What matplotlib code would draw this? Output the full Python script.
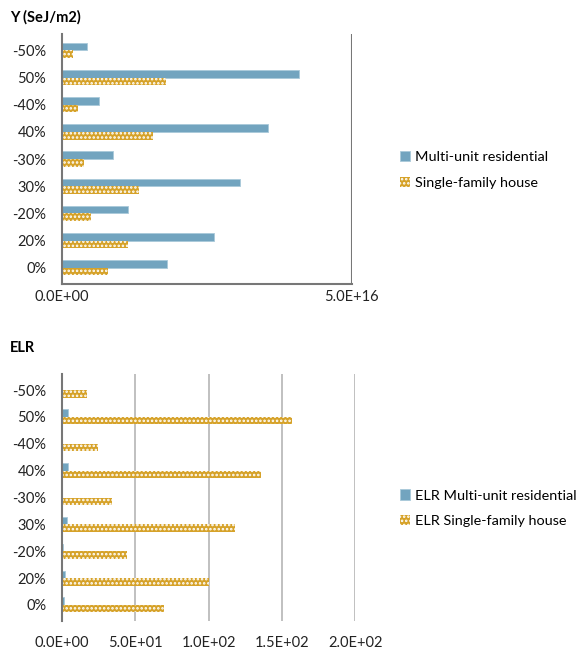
import numpy as np
import matplotlib
matplotlib.use("Agg")
import matplotlib.pyplot as plt
from matplotlib.ticker import FuncFormatter
from matplotlib.patches import Patch

plt.rcParams['font.family'] = ['Lato', 'DejaVu Sans']
plt.rcParams['hatch.linewidth'] = 1.2

# categories, listed from the bottom of the chart upwards
categories = ["0%", "20%", "-20%", "30%", "-30%", "40%", "-40%", "50%", "-50%"]

# Y (SeJ/m2)
y_multi = [1.81e16, 2.62e16, 1.15e16, 3.07e16, 0.88e16, 3.56e16, 0.64e16, 4.09e16, 0.435e16]
y_single = [0.79e16, 1.14e16, 0.50e16, 1.34e16, 0.38e16, 1.57e16, 0.275e16, 1.79e16, 0.19e16]

# ELR
elr_multi = [1.6, 2.5, 0.9, 3.4, 0.4, 4.1, 0.2, 4.5, 0.2]
elr_single = [69.4, 100.2, 44.4, 118.0, 34.2, 136.0, 24.5, 156.7, 17.2]

blue = "#72A4BF"
gold = "#D6A229"
bar_h = 0.28


def sci(v, pos):
    s = "%.1E" % v
    mant, exp = s.split("E")
    return "%sE%s%02d" % (mant, exp[0], abs(int(exp)))


def draw(ax, multi, single, xmax, step):
    y = np.arange(len(categories))
    ax.barh(y + bar_h / 2, multi, height=bar_h, color=blue, edgecolor="#A9C9DA", lw=0.6)
    ax.barh(y - bar_h / 2, single, height=bar_h, color=gold, edgecolor="white",
            hatch="....", lw=0)
    ax.set_xlim(0, xmax)
    ax.set_ylim(-0.6, len(categories) - 0.4)
    ax.set_yticks(y)
    ax.set_yticklabels(categories, fontsize=10.5)
    ax.set_xticks(np.arange(0, xmax + step / 2, step))
    ax.xaxis.set_major_formatter(FuncFormatter(sci))
    ax.tick_params(length=0, labelsize=10.5, colors="#222222")
    ax.tick_params(axis="y", pad=11)
    for s in ["top", "right", "bottom"]:
        ax.spines[s].set_visible(False)
    ax.spines["left"].set_color("#777777")
    ax.spines["left"].set_linewidth(1.5)
    ax.set_axisbelow(True)
    ax.grid(axis="x", color="#BBBBBB", lw=1.3)


def legend(ax, labels, x):
    handles = [Patch(facecolor=blue, edgecolor="#A9C9DA", lw=0.6),
               Patch(facecolor=gold, edgecolor="white", hatch="....", lw=0)]
    ax.legend(handles, labels, loc="center left", bbox_to_anchor=(x, 0.456),
              frameon=False, fontsize=10.4, handlelength=0.7, handleheight=0.7,
              handletextpad=0.35, labelspacing=0.95, borderaxespad=0)


fig = plt.figure(figsize=(5.76, 6.49), dpi=100)

ax1 = fig.add_axes([0.107, 0.5624, 0.504, 0.385])
draw(ax1, y_multi, y_single, 5e16, 5e16)
ax1.spines["bottom"].set_visible(True)
ax1.spines["bottom"].set_color("#777777")
ax1.spines["bottom"].set_linewidth(1.5)
ax1.grid(False)
ax1.axvline(5e16, color="#777777", lw=1.5)
ax1.tick_params(axis="x", pad=4)
fig.text(0.017, 0.974, "Y (SeJ/m2)", fontsize=10.5, fontweight="bold", va="center")
legend(ax1, ["Multi-unit residential", "Single-family house"], 1.145)

ax2 = fig.add_axes([0.107, 0.0431, 0.510, 0.3806])
draw(ax2, elr_multi, elr_single, 200, 50)
ax2.tick_params(axis="x", pad=11)
fig.text(0.017, 0.464, "ELR", fontsize=10.5, fontweight="bold", va="center")
legend(ax2, ["ELR Multi-unit residential", "ELR Single-family house"], 1.132)

fig.savefig("out.png", dpi=100)
